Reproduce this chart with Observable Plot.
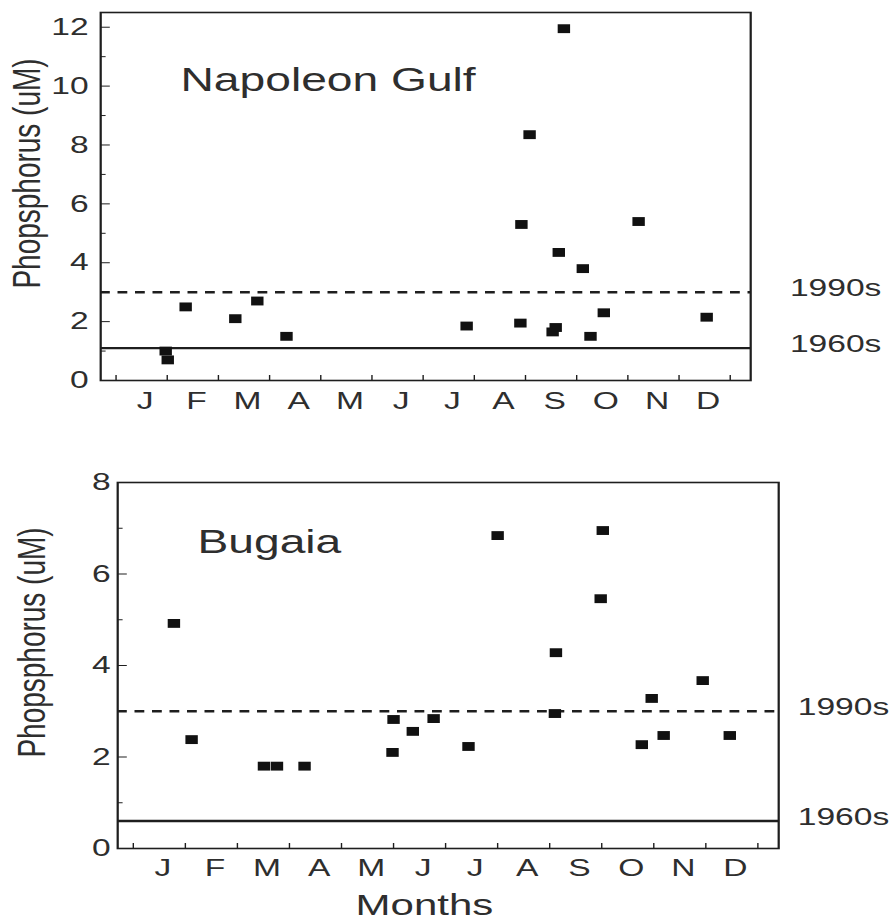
<!DOCTYPE html>
<html>
<head>
<meta charset="utf-8">
<script src="https://cdn.jsdelivr.net/npm/d3@7"></script>
<script src="https://cdn.jsdelivr.net/npm/@observablehq/plot@0.6"></script>
<style>
  html, body { margin: 0; padding: 0; background: #fff; }
  #chart svg { display: block; }
</style>
</head>
<body>
<div id="chart"></div>
<script>
// ---- data ----
const months = ["J", "F", "M", "A", "M", "J", "J", "A", "S", "O", "N", "D"];
const refNames = ["1990s", "1960s"];

// Napoleon Gulf: month position (0 = start of January) and phosphorus (uM)
const napoleonMonth = [0.97, 1.01, 1.36, 2.33, 2.76, 3.33, 6.85, 7.90, 7.92, 8.08, 8.53, 8.59, 8.65, 8.75, 9.12, 9.27, 9.53, 10.21, 11.54];
const napoleonP     = [1.00, 0.70, 2.50, 2.10, 2.70, 1.50, 1.85, 1.95, 5.30, 8.35, 1.65, 1.80, 4.35, 11.95, 3.80, 1.50, 2.30, 5.40, 2.15];
const napoleonRefs  = [3.0, 1.1];

// Bugaia
const bugaiaMonth = [0.78, 1.12, 2.51, 2.76, 3.29, 4.98, 5.00, 5.37, 5.77, 6.44, 7.00, 8.10, 8.12, 8.98, 9.02, 9.77, 9.96, 10.19, 10.94, 11.46];
const bugaiaP     = [4.92, 2.38, 1.80, 1.80, 1.80, 2.10, 2.82, 2.56, 2.84, 2.23, 6.84, 2.95, 4.28, 5.46, 6.95, 2.27, 3.28, 2.47, 3.67, 2.47];
const bugaiaRefs  = [3.0, 0.6];

const napoleonTicks = [0, 2, 4, 6, 8, 10, 12];
const napoleonMinor = [1, 3, 5, 7, 9, 11];
const bugaiaTicks = [0, 2, 4, 6, 8];
const bugaiaMinor = [1, 3, 5, 7];

// ---- layout ----
const PAGE_W = 889;
const STRETCH = 1.4;               // the reference figure is drawn horizontally stretched
const W = PAGE_W / STRETCH;
const INK = "#1e1e1e";
const TEXT = "#2e2e2e";
const FONT = "'Liberation Sans', Arial, Helvetica, sans-serif";
const monthTickPos = d3.range(0, 13);
const monthLabelPos = months.map((m, i) => i + 0.57);

function panel(opts) {
  const pts = opts.month.map((m, i) => ({month: m, p: opts.values[i]}));
  const refs = opts.refs.map((v, i) => ({name: refNames[i], v}));
  const svg = Plot.plot({
    width: W,
    height: opts.height,
    marginLeft: opts.ml, marginRight: opts.mr, marginTop: opts.mt, marginBottom: opts.mb,
    style: {fontFamily: FONT, color: INK, background: "white"},
    x: {domain: [-0.3, 12.4]},
    y: {domain: opts.ydomain},
    marks: [
      Plot.frame({stroke: INK, strokeWidth: 1.6}),
      Plot.axisY(opts.ticks, {tickSize: -7, tickPadding: opts.yPad, fontSize: 24, fill: TEXT, stroke: INK, label: null}),
      Plot.axisY(opts.minor, {tickSize: -4, fill: "none", stroke: INK}),
      Plot.axisX(monthTickPos, {tickSize: -5, fill: "none", stroke: INK}),
      Plot.axisX(monthLabelPos, {tickSize: 0, tickPadding: opts.xPad, fontSize: 24, fill: TEXT, label: null,
        tickFormat: d => months[Math.floor(d)]}),
      Plot.ruleY([refs[0]], {y: "v", stroke: INK, strokeWidth: 2.4, strokeDasharray: "7,5.5"}),
      Plot.ruleY([refs[1]], {y: "v", stroke: INK, strokeWidth: 2.4}),
      Plot.dot(pts, {x: "month", y: "p", symbol: "square", r: 5, fill: "#111", stroke: "none"}),
      Plot.text(refs, {y: "v", text: "name", frameAnchor: "right", textAnchor: "start", dx: opts.refDx, dy: -4,
        fontSize: 24, fill: TEXT}),
      Plot.text([opts.title], {frameAnchor: "top-left", textAnchor: "start", lineAnchor: "bottom",
        dx: 57, dy: opts.titleDy, fontSize: 33, fill: TEXT}),
      Plot.text(["Phopsphorus (uM)"], {frameAnchor: "left", textAnchor: "middle", lineAnchor: "middle",
        rotate: -90, dx: opts.ylabDx, dy: -23, fontSize: 28, fill: TEXT}),
      ...(opts.xlabel ? [Plot.text([opts.xlabel], {frameAnchor: "bottom", lineAnchor: "bottom",
        dx: -17, dy: 66, fontSize: 30, fill: TEXT})] : [])
    ]
  });
  svg.setAttribute("width", PAGE_W);
  svg.setAttribute("preserveAspectRatio", "none");
  svg.style.width = PAGE_W + "px";
  svg.style.height = opts.height + "px";
  svg.style.maxWidth = "none";
  return svg;
}

const chart = document.getElementById("chart");
chart.appendChild(panel({
  month: napoleonMonth, values: napoleonP, refs: napoleonRefs,
  height: 430, ml: 100 / STRETCH, mr: (PAGE_W - 750) / STRETCH, mt: 12, mb: 50,
  ydomain: [0, 12.5], ticks: napoleonTicks, minor: napoleonMinor,
  yPad: 15.6, xPad: 11, refDx: 28, title: "Napoleon Gulf", titleDy: 78, ylabDx: -52
}));
chart.appendChild(panel({
  month: bugaiaMonth, values: bugaiaP, refs: bugaiaRefs,
  height: 492, ml: 117 / STRETCH, mr: (PAGE_W - 778) / STRETCH, mt: 52, mb: 74,
  ydomain: [0, 8], ticks: bugaiaTicks, minor: bugaiaMinor,
  yPad: 12, xPad: 10, refDx: 13.6, title: "Bugaia", titleDy: 70, ylabDx: -61,
  xlabel: "Months"
}));
</script>
</body>
</html>
